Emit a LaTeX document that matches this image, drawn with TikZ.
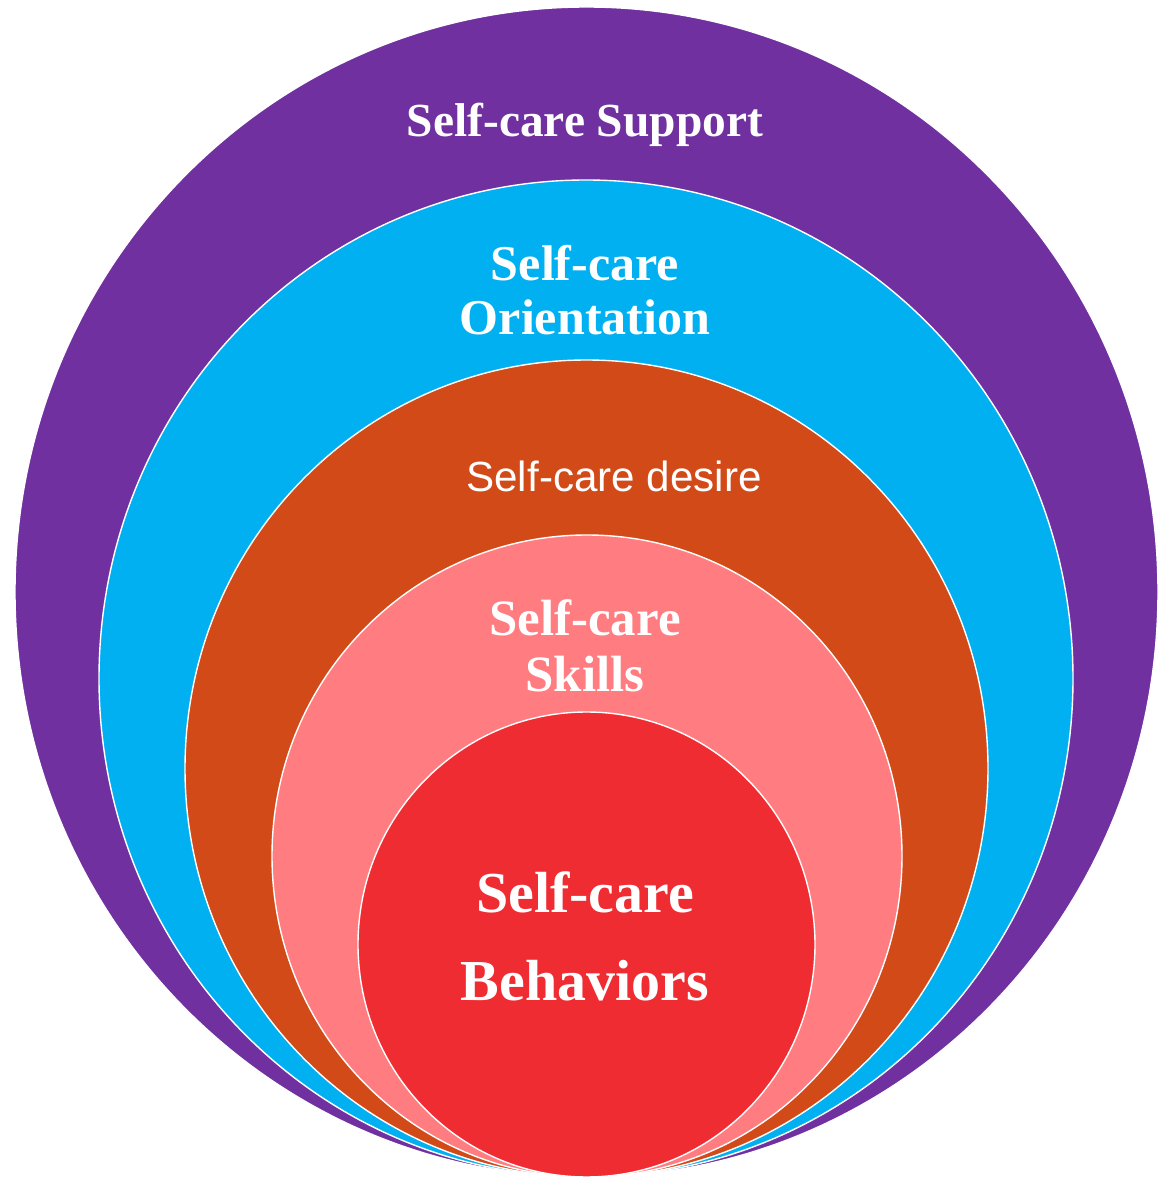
\documentclass[tikz,border=0pt]{standalone}
\usepackage{fontspec}
\setmainfont{Liberation Serif}
\setsansfont{Liberation Sans}
\definecolor{supportcol}{HTML}{7030A0}
\definecolor{orientcol}{HTML}{00B0F0}
\definecolor{desirecol}{HTML}{D24A18}
\definecolor{skillcol}{HTML}{FF7C80}
\definecolor{behavcol}{HTML}{F02C33}

\begin{document}
\begin{tikzpicture}[x=0.02cm,y=0.02cm,line width=0.8pt,
  ring/.style={draw=white},
  label/.style={text=white,align=center,inner sep=0pt,font=\bfseries}]
\useasboundingbox (0,0) rectangle (1175,1178);
% nested rings, all touching at the bottom
\draw[ring,fill=supportcol] (586.5,586) ellipse [x radius=571.5,y radius=585];
\draw[ring,fill=orientcol] (586,499.5) ellipse [x radius=487,y radius=498.5];
\draw[ring,fill=desirecol] (586.5,409.5) ellipse [x radius=401.5,y radius=408.5];
\draw[ring,fill=skillcol] (587,322) ellipse [x radius=315,y radius=321];
\draw[ring,fill=behavcol] (586.5,233.5) ellipse [x radius=228.5,y radius=232.5];

\node[label,anchor=base,font=\bfseries\fontsize{27}{32}\selectfont] (support) at (585,1041) {Self-care Support};
\node[label,font=\bfseries\fontsize{28.5}{30.5}\selectfont] (orient) at (585,888) {Self-care\\Orientation};
\node[label,anchor=base,font=\sffamily\fontsize{24}{28}\selectfont] (desire) at (614,686) {Self-care desire};
\node[label,font=\bfseries\fontsize{29}{32}\selectfont] (skills) at (585,532) {Self-care\\Skills};
\node[label,font=\bfseries\fontsize{33}{50}\selectfont] (behav) at (585,241.5) {Self-care\\Behaviors};
\end{tikzpicture}
\end{document}
